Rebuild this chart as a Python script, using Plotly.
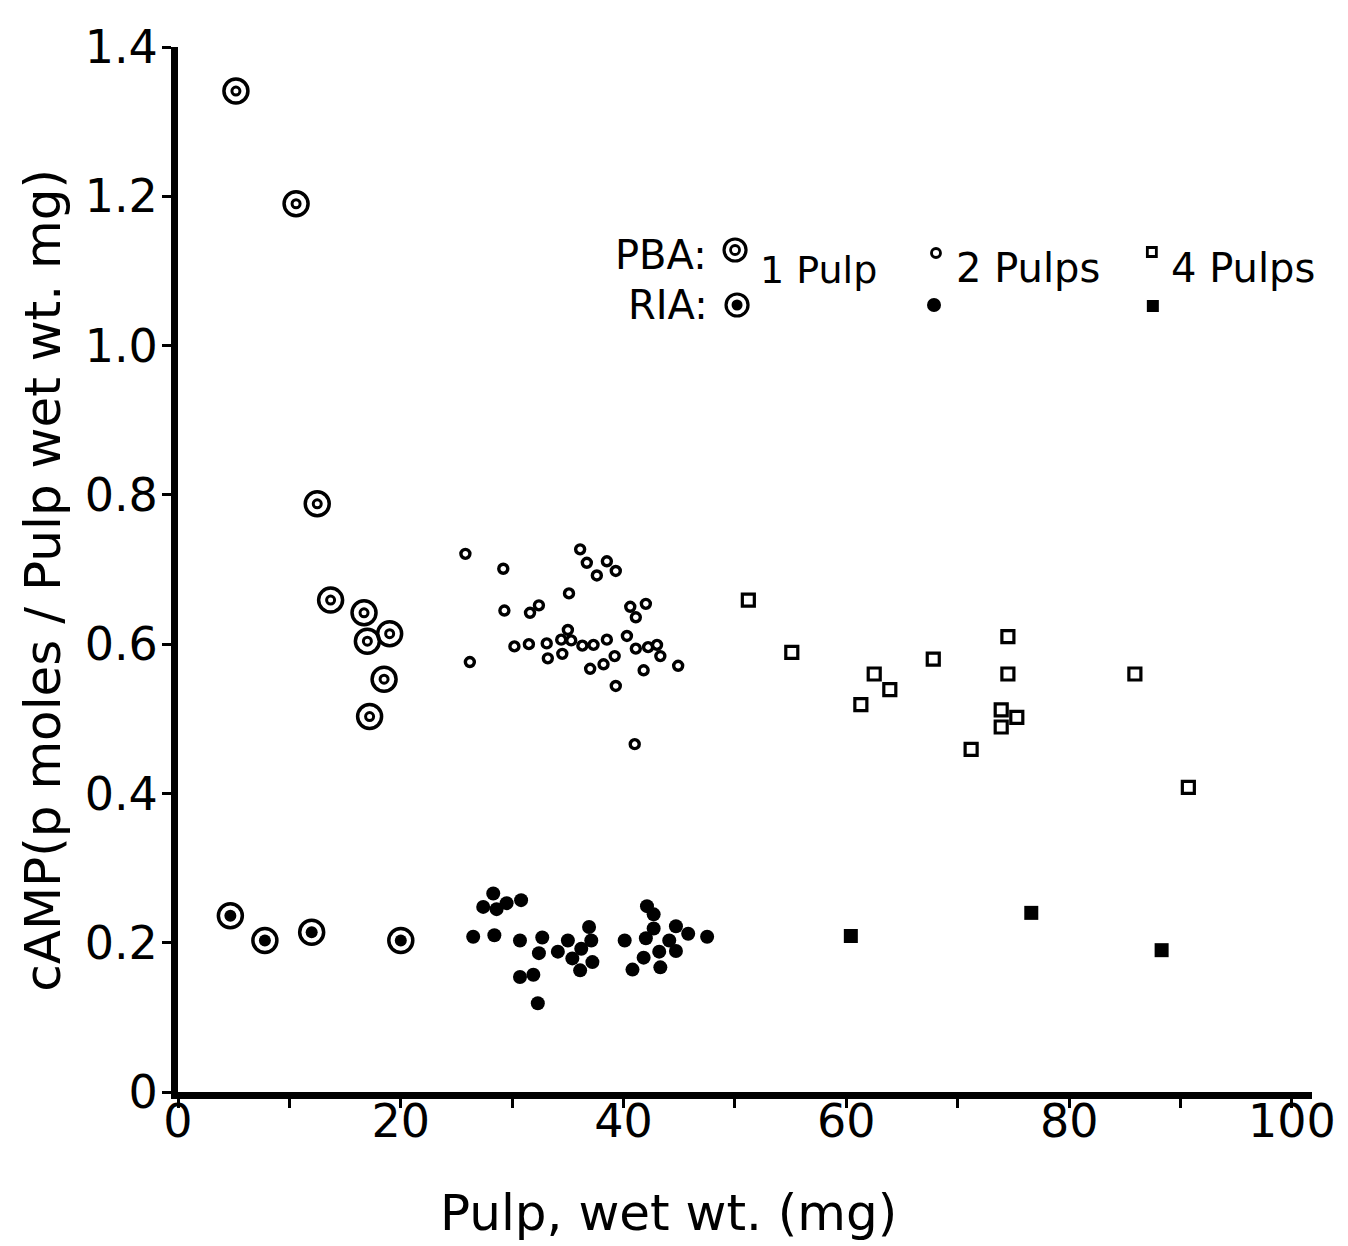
import plotly.graph_objects as go

# ---------------- data ----------------
# 1 pulp, PBA (double ring)
pba1_x = [5.2, 10.6, 12.5, 13.7, 16.7, 19.0, 17.0, 18.5, 17.2]
pba1_y = [1.341, 1.190, 0.788, 0.659, 0.642, 0.614, 0.604, 0.553, 0.503]
# 1 pulp, RIA (ring with filled centre)
ria1_x = [4.7, 7.8, 12.0, 20.0]
ria1_y = [0.236, 0.203, 0.214, 0.203]
# 2 pulps, PBA (small open circles)
pba2_x = [25.8, 29.2, 36.1, 36.7, 38.5, 37.6, 39.3, 35.1, 29.3, 31.6, 32.4, 40.6, 42.0,
          41.1, 26.2, 30.2, 31.5, 33.1, 33.2, 35.0, 34.4, 35.3, 34.5, 36.3, 37.3, 38.5,
          40.3, 41.1, 42.2, 43.0, 43.3, 44.9, 41.8, 39.2, 38.2, 37.0, 39.3, 41.0]
pba2_y = [0.721, 0.701, 0.727, 0.709, 0.711, 0.692, 0.698, 0.668, 0.645, 0.642, 0.652,
          0.650, 0.654, 0.636, 0.576, 0.597, 0.600, 0.601, 0.581, 0.619, 0.606, 0.605,
          0.587, 0.598, 0.599, 0.606, 0.611, 0.594, 0.596, 0.599, 0.584, 0.571, 0.565,
          0.584, 0.573, 0.567, 0.544, 0.466]
# 2 pulps, RIA (filled circles)
ria2_x = [28.3, 27.4, 28.6, 29.5, 30.8, 26.5, 28.4, 30.7, 32.7, 32.4, 30.7, 31.9, 32.3,
          34.1, 35.0, 36.9, 37.1, 36.2, 35.4, 36.1, 37.2, 40.1, 42.1, 42.7, 42.7, 42.0,
          44.7, 45.8, 47.5, 44.1, 44.7, 43.2, 41.8, 40.8, 43.3]
ria2_y = [0.266, 0.248, 0.245, 0.253, 0.257, 0.208, 0.210, 0.203, 0.207, 0.186, 0.154,
          0.157, 0.119, 0.188, 0.203, 0.221, 0.203, 0.192, 0.179, 0.163, 0.174, 0.203,
          0.249, 0.238, 0.219, 0.206, 0.222, 0.212, 0.208, 0.203, 0.189, 0.188, 0.180,
          0.164, 0.167]
# 4 pulps, PBA (open squares)
pba4_x = [51.2, 55.1, 62.5, 63.9, 61.3, 67.8, 74.5, 74.5, 73.9, 75.3, 73.9, 71.2, 85.9, 90.7]
pba4_y = [0.659, 0.589, 0.560, 0.539, 0.519, 0.580, 0.610, 0.560, 0.512, 0.502, 0.489,
          0.459, 0.560, 0.408]
# 4 pulps, RIA (filled squares)
ria4_x = [60.4, 76.6, 88.3]
ria4_y = [0.209, 0.240, 0.190]

x_ticks = [0, 20, 40, 60, 80, 100]
x_minor = [10, 30, 50, 70, 90]
y_ticks = [0, 0.2, 0.4, 0.6, 0.8, 1.0, 1.2, 1.4]
y_ticktext = ["0", "0.2", "0.4", "0.6", "0.8", "1.0", "1.2", "1.4"]

# ---------------- layout geometry ----------------
W, H = 1348, 1246
ML, MR, MT, MB = 178, 30, 47, 154
PW, PH = W - ML - MR, H - MT - MB
FONT = "DejaVu Sans"
BLACK = "black"


def px(xp):
    return (xp - ML) / PW


def py(yp):
    return (H - MB - yp) / PH


fig = go.Figure()

# 1 pulp PBA : double ring
fig.add_trace(go.Scatter(x=pba1_x, y=pba1_y, mode="markers", showlegend=False,
                         marker=dict(symbol="circle-open", size=24, color=BLACK,
                                     line=dict(width=3.5, color=BLACK))))
fig.add_trace(go.Scatter(x=pba1_x, y=pba1_y, mode="markers", showlegend=False,
                         marker=dict(symbol="circle-open", size=8, color=BLACK,
                                     line=dict(width=3, color=BLACK))))
# 1 pulp RIA : ring + filled centre
fig.add_trace(go.Scatter(x=ria1_x, y=ria1_y, mode="markers", showlegend=False,
                         marker=dict(symbol="circle-open", size=24, color=BLACK,
                                     line=dict(width=3.5, color=BLACK))))
fig.add_trace(go.Scatter(x=ria1_x, y=ria1_y, mode="markers", showlegend=False,
                         marker=dict(symbol="circle", size=12, color=BLACK)))
# 2 pulps
fig.add_trace(go.Scatter(x=pba2_x, y=pba2_y, mode="markers", showlegend=False,
                         marker=dict(symbol="circle-open", size=9, color=BLACK,
                                     line=dict(width=3.4, color=BLACK))))
fig.add_trace(go.Scatter(x=ria2_x, y=ria2_y, mode="markers", showlegend=False,
                         marker=dict(symbol="circle", size=14, color=BLACK)))
# 4 pulps
fig.add_trace(go.Scatter(x=pba4_x, y=pba4_y, mode="markers", showlegend=False,
                         marker=dict(symbol="square-open", size=12, color=BLACK,
                                     line=dict(width=3.2, color=BLACK))))
fig.add_trace(go.Scatter(x=ria4_x, y=ria4_y, mode="markers", showlegend=False,
                         marker=dict(symbol="square", size=14, color=BLACK)))

# ---------------- hand-drawn style legend ----------------
shapes = []


def ring(xc, yc, d, lw, fill=None):
    r = d / 2
    shapes.append(dict(type="circle", xref="paper", yref="paper",
                       xsizemode="pixel", ysizemode="pixel",
                       xanchor=px(xc), yanchor=py(yc),
                       x0=-r, x1=r, y0=-r, y1=r,
                       line=dict(color=BLACK, width=lw),
                       fillcolor=fill if fill else "rgba(0,0,0,0)"))


def box(xc, yc, d, lw, fill=None):
    r = d / 2
    shapes.append(dict(type="rect", xref="paper", yref="paper",
                       xsizemode="pixel", ysizemode="pixel",
                       xanchor=px(xc), yanchor=py(yc),
                       x0=-r, x1=r, y0=-r, y1=r,
                       line=dict(color=BLACK, width=lw),
                       fillcolor=fill if fill else "rgba(0,0,0,0)"))


ring(738, 250, 22, 3.2)
ring(738, 250, 9, 2.8)
ring(740, 305, 22, 3.2)
ring(740, 305, 11, 0, BLACK)
ring(940, 253, 9, 2.8)
ring(938, 305, 14, 0, BLACK)
box(1157, 252, 9, 2.8)
box(1158, 306, 12, 0, BLACK)

annotations = []


def label(text, xc, yc, size, angle=0):
    annotations.append(dict(text=text, xref="paper", yref="paper",
                            x=px(xc), y=py(yc), xanchor="center", yanchor="middle",
                            showarrow=False, textangle=angle,
                            font=dict(family=FONT, size=size, color=BLACK)))


label("PBA:", 664, 255, 40)
label("RIA:", 671, 305, 40)
label("1 Pulp", 822, 270, 38)
label("2 Pulps", 1032, 268, 40)
label("4 Pulps", 1249, 268, 40)

# axis titles
label("Pulp, wet wt. (mg)", 671, 1213, 50)
label("cAMP(p moles / Pulp wet wt. mg)", 42, 580, 50, angle=-90)

fig.update_layout(
    width=W, height=H,
    margin=dict(l=ML, r=MR, t=MT, b=MB),
    paper_bgcolor="white", plot_bgcolor="white",
    shapes=shapes, annotations=annotations,
    showlegend=False,
    xaxis=dict(range=[0, 101.8], showgrid=False, zeroline=False,
               showline=True, linewidth=7, linecolor=BLACK,
               tickmode="array", tickvals=x_ticks, ticktext=[str(v) for v in x_ticks],
               ticks="outside", ticklen=9, tickwidth=2.5, tickcolor=BLACK,
               minor=dict(tickmode="array", tickvals=x_minor, ticks="outside",
                          ticklen=9, tickwidth=2.5, tickcolor=BLACK, showgrid=False),
               ticklabelstandoff=-26,
               tickfont=dict(family=FONT, size=46, color=BLACK)),
    yaxis=dict(range=[0, 1.4], showgrid=False, zeroline=False,
               showline=True, linewidth=7, linecolor=BLACK,
               tickmode="array", tickvals=y_ticks, ticktext=y_ticktext,
               ticks="outside", ticklen=9, tickwidth=2.5, tickcolor=BLACK,
               ticklabelstandoff=-5,
               tickfont=dict(family=FONT, size=46, color=BLACK)),
)

fig.write_html("out.html")
